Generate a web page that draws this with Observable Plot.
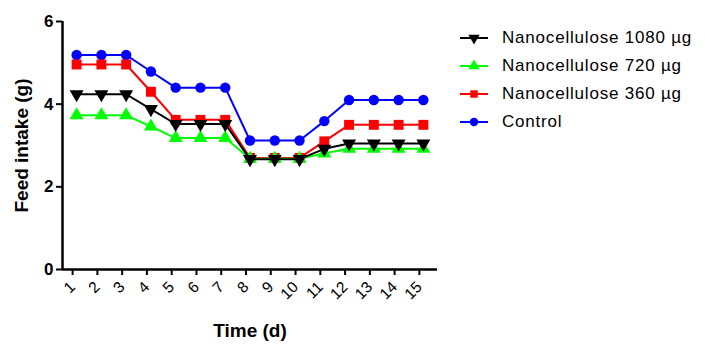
<!DOCTYPE html>
<html>
<head>
<meta charset="utf-8">
<script src="https://cdn.jsdelivr.net/npm/d3@7"></script>
<script src="https://cdn.jsdelivr.net/npm/@observablehq/plot@0.6"></script>
<style>
  html, body { margin: 0; padding: 0; background: #fff; }
  #wrap { position: relative; width: 705px; height: 345px; font-family: "Liberation Sans", Arial, sans-serif; }
  #chart svg { display: block; }
  g[aria-label="x-axis label"] text, g[aria-label="y-axis label"] text { font-weight: bold; font-size: 19px; fill: #000; }
  g[aria-label="y-axis tick label"] text { font-weight: bold; font-size: 17px; }
  #legend { position: absolute; left: 458px; top: 24px; }
  .row { display: flex; align-items: center; height: 28px; }
  .row span { font-size: 17px; letter-spacing: 0.8px; margin-left: 12px; color: #000; }
</style>
</head>
<body>
<div id="wrap">
  <div id="chart"></div>
  <div id="legend"></div>
</div>
<script>
const days = [1,2,3,4,5,6,7,8,9,10,11,12,13,14,15];
const nano1080 = [4.24,4.24,4.24,3.88,3.52,3.52,3.52,2.67,2.67,2.67,2.92,3.05,3.05,3.05,3.05];
const nano720  = [3.73,3.73,3.73,3.46,3.18,3.18,3.18,2.68,2.68,2.68,2.81,2.92,2.92,2.92,2.92];
const nano360  = [4.96,4.96,4.96,4.30,3.62,3.62,3.62,2.70,2.70,2.70,3.10,3.50,3.50,3.50,3.50];
const control  = [5.19,5.19,5.19,4.79,4.40,4.40,4.40,3.12,3.12,3.12,3.59,4.10,4.10,4.10,4.10];
const seriesNames = ["Nanocellulose 1080 µg","Nanocellulose 720 µg","Nanocellulose 360 µg","Control"];
const yTicks = [0,2,4,6];

const series = [
  {name: seriesNames[0], values: nano1080, color: "#000000", symbol: "triangle", rotate: 180},
  {name: seriesNames[1], values: nano720,  color: "#00ff00", symbol: "triangle", rotate: 0},
  {name: seriesNames[2], values: nano360,  color: "#ff0000", symbol: "square", rotate: 0},
  {name: seriesNames[3], values: control,  color: "#0000ff", symbol: "circle", rotate: 0}
];
const xDomain = [0.43, 15.57];
const drawOrder = [3, 2, 1, 0];

const marks = [];
for (const i of drawOrder) {
  const s = series[i];
  const data = days.map((d, k) => ({day: d, v: s.values[k]}));
  marks.push(Plot.line(data, {x: "day", y: "v", stroke: s.color, strokeWidth: 2}));
  marks.push(Plot.dot(data, {x: "day", y: "v", fill: s.color, stroke: "none", symbol: s.symbol, r: s.symbol === "square" ? 5.6 : 5.2, rotate: s.rotate}));
}

const chart = Plot.plot({
  width: 705,
  height: 345,
  marginLeft: 62,
  marginRight: 268,
  marginTop: 21,
  marginBottom: 76,
  style: {fontFamily: "'Liberation Sans', Arial, sans-serif", color: "#000", background: "#fff"},
  x: {domain: xDomain},
  y: {domain: [0, 6]},
  marks: [
    Plot.axisY({ticks: yTicks, tickFormat: d => String(d), tickSize: 6, tickPadding: 3, strokeWidth: 2, label: "Feed intake (g)", labelArrow: "none", labelAnchor: "center", labelOffset: 48, fontSize: 17}),
    Plot.axisX({ticks: days, tickFormat: d => String(d), tickSize: 6, tickPadding: 9, dx: -4, tickRotate: -45, strokeWidth: 2, fontSize: 15.5, label: "Time (d)", labelArrow: "none", labelAnchor: "center", labelOffset: 67}),
    Plot.ruleY([0], {stroke: "#000", strokeWidth: 2.5}),
    Plot.ruleX([xDomain[0]], {y1: 0, y2: 6, stroke: "#000", strokeWidth: 2.5}),
    ...marks
  ]
});
document.getElementById("chart").appendChild(chart);

// Legend
const legend = document.getElementById("legend");
for (const s of series) {
  const row = document.createElement("div");
  row.className = "row";
  const svg = d3.create("svg").attr("width", 32).attr("height", 16);
  svg.append("line").attr("x1", 2).attr("x2", 30).attr("y1", 8).attr("y2", 8).attr("stroke", s.color).attr("stroke-width", 2);
  const sym = s.symbol === "circle" ? d3.symbolCircle : s.symbol === "square" ? d3.symbolSquare : d3.symbolTriangle;
  svg.append("path").attr("d", d3.symbol(sym, 56)()).attr("transform", `translate(16,8) rotate(${s.rotate})`).attr("fill", s.color);
  row.appendChild(svg.node());
  const t = document.createElement("span");
  t.textContent = s.name;
  row.appendChild(t);
  legend.appendChild(row);
}
</script>
</body>
</html>
